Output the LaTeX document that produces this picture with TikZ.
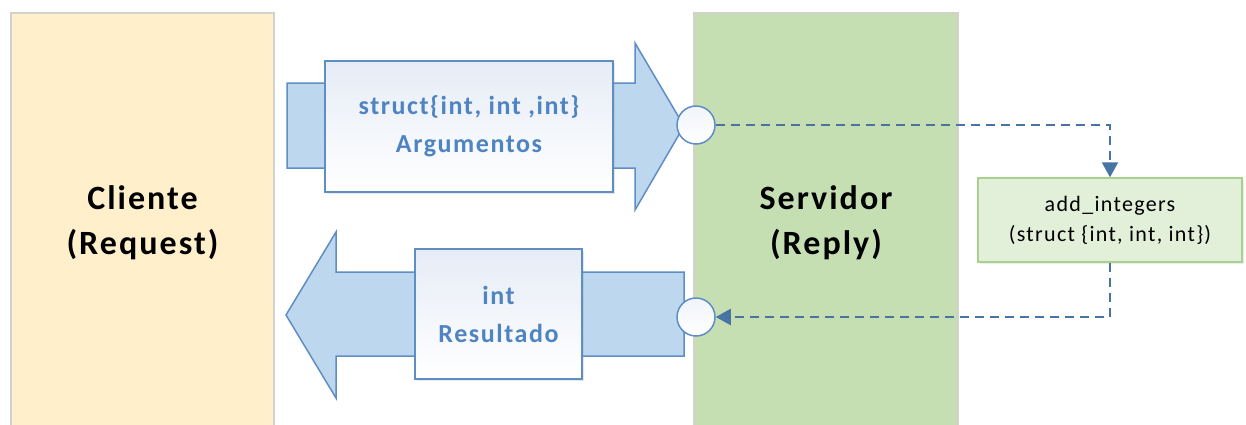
\documentclass[tikz,border=0pt]{standalone}
\usepackage{fontspec}
\setmainfont{Carlito}[LetterSpace=6]
\usetikzlibrary{arrows.meta,shadows}
\definecolor{clientfill}{HTML}{FFF0CB}
\definecolor{serverfill}{HTML}{C5DFB2}
\definecolor{laneborder}{HTML}{D2D2CC}
\definecolor{fnfill}{HTML}{E2EFD9}
\definecolor{fnborder}{HTML}{A9D18E}
\definecolor{arrowfill}{HTML}{BDD7EE}
\definecolor{arrowdraw}{HTML}{5F8EC4}
\definecolor{boxtint}{HTML}{E6ECF6}
\definecolor{msgblue}{HTML}{4F84C2}
\definecolor{flowblue}{HTML}{4873A3}
\begin{document}
\begin{tikzpicture}[x=1pt,y=-1pt,
  lane/.style={draw=laneborder, line width=1.2pt, align=center,
    font=\fontsize{34}{45}\selectfont\bfseries, text=black},
  arrowbody/.style={fill=arrowfill, draw=arrowdraw, line width=1.5pt, line join=miter},
  msgbox/.style={draw=arrowdraw, line width=1.5pt, shading angle=135,
    top color=boxtint, bottom color=white,
    align=center, text=msgblue, font=\fontsize{26}{38}\selectfont\bfseries,
    drop shadow={opacity=0.18, shadow xshift=2pt, shadow yshift=-2pt}},
  port/.style={circle, draw=arrowdraw, line width=1.5pt, minimum size=38pt, inner sep=0pt,
    top color=boxtint!60, bottom color=white},
  fnbox/.style={fill=fnfill, draw=fnborder, line width=1.5pt, align=center,
    font=\fontsize{22}{30}\selectfont, text=black,
    drop shadow={opacity=0.15, shadow xshift=2pt, shadow yshift=-2pt}},
  flow/.style={draw=flowblue, line width=2.2pt, dash pattern=on 9pt off 6pt,
    -{Triangle[length=15pt,width=16pt,sep=0pt]}}
]
\clip (0,0) rectangle (1246,424);
\fill[white] (0,0) rectangle (1246,424);

% client and server lanes
\node[lane, fill=clientfill, minimum width=263pt, minimum height=420pt] (client)
  at (142.5,223) {Cliente\\(Request)};
\node[lane, fill=serverfill, minimum width=264pt, minimum height=420pt] (server)
  at (826,223) {Servidor\\(Reply)};

% request arrow towards the server
\path[arrowbody] (287,83) -- (635,83) -- (635,43) -- (684,126) -- (635,210)
  -- (635,168) -- (287,168) -- cycle;
\node[msgbox, minimum width=288pt, minimum height=131pt] (args) at (469,126.5)
  {struct\{int, int ,int\}\\Argumentos};

% reply arrow towards the client
\path[arrowbody] (684,272) -- (336,272) -- (336,232) -- (286,315) -- (336,398)
  -- (336,356) -- (684,356) -- cycle;
\node[msgbox, minimum width=167pt, minimum height=130pt] (res) at (498.5,314)
  {int\\Resultado};

% ports on the server side
\node[port] (pin) at (696,125) {};
\node[port] (pout) at (696,317) {};

% remote procedure
\node[fnbox, minimum width=264pt, minimum height=84pt] (fn) at (1110,220)
  {add\_integers\\(struct \{int, int, int\})};

% call and return paths
\draw[flow] (pin.east) -| (fn.north);
\draw[flow] (fn.south) |- (pout.east);
\end{tikzpicture}
\end{document}
